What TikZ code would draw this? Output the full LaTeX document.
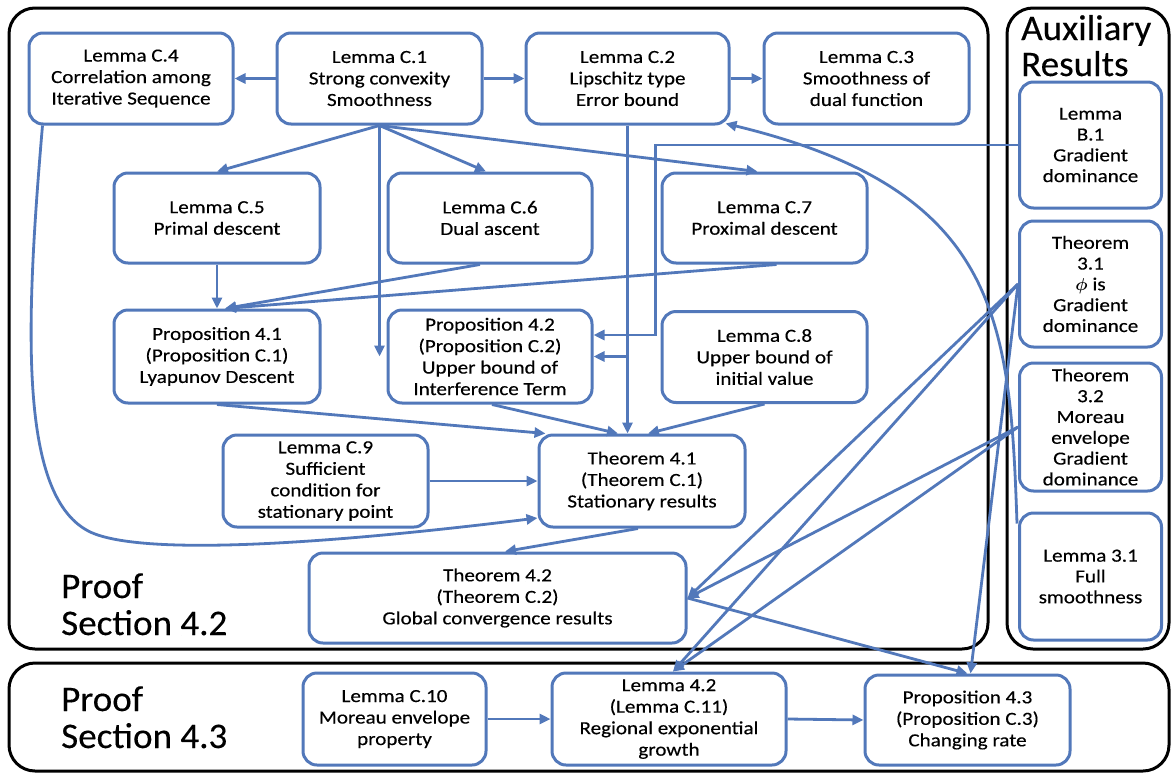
\documentclass[tikz,border=0pt]{standalone}
\usepackage{amsmath}
\usepackage{fontspec}
\setmainfont{Carlito}
\newfontfamily\nodefont{Carlito}[FakeStretch=1.14,FakeBold=0.35]
\newfontfamily\bigfont{Carlito}[FakeStretch=1.03,FakeBold=0.3]
\usetikzlibrary{arrows.meta,calc}
\definecolor{nodeblue}{RGB}{82,120,186}
\begin{document}
\begin{tikzpicture}[x=1pt,y=-1pt,
  box/.style={draw=nodeblue, line width=3pt, rounded corners=14pt, fill=white, align=center, inner sep=1pt, font=\nodefont\fontsize{18.5}{21.5}\selectfont},
  auxtxt/.style={font=\nodefont\fontsize{18.5}{20.8}\selectfont},
  sz/.style 2 args={minimum width=#1pt, minimum height=#2pt},
  frame/.style={draw=black, line width=3pt, rounded corners=26pt},
  conn/.style={draw=nodeblue, line width=2.8pt},
  arr/.style={conn, -{Triangle[length=11pt,width=10pt]}},
  bigtxt/.style={font=\bigfont\fontsize{36}{40}\selectfont, anchor=base west, inner sep=0pt}]

\useasboundingbox (0,0) rectangle (1172,774);
\fill[white] (0,0) rectangle (1172,774);

% frames
\node[frame, sz={979}{641}] (sec42) at (498.5,328.5) {};
\node[frame, sz={162}{641}] (auxframe) at (1088,328.5) {};
\node[frame, sz={1160}{108}] (sec43) at (589,717) {};

\node[bigtxt] (pf42a) at (61,598) {Proof};
\node[bigtxt] (pf42b) at (61,635) {Section 4.2};
\node[bigtxt] (pf43a) at (61,711) {Proof};
\node[bigtxt] (pf43b) at (61,748) {Section 4.3};
\node[bigtxt] (auxa) at (1021,40) {Auxiliary};
\node[bigtxt] (auxb) at (1021,76) {Results};

% nodes
\node[box, sz={204}{91}] (c4) at (131,78.5) {Lemma C.4\\Correlation among\\Iterative Sequence};
\node[box, sz={205}{91}] (c1) at (379.5,78.5) {Lemma C.1\\Strong convexity\\Smoothness};
\node[box, sz={203}{91}] (c2) at (627.5,78.5) {Lemma C.2\\Lipschitz type\\Error bound};
\node[box, sz={205}{91}] (c3) at (866.5,78.5) {Lemma C.3\\Smoothness of\\dual function};
\node[box, auxtxt, sz={142}{126}] (b1) at (1090.5,145) {Lemma\\B.1\\Gradient\\dominance};
\node[box, sz={206}{90}] (c5) at (217,218) {Lemma C.5\\Primal descent};
\node[box, sz={204}{90}] (c6) at (490,218) {Lemma C.6\\Dual ascent};
\node[box, sz={205}{90}] (c7) at (764.5,218) {Lemma C.7\\Proximal descent};
\node[box, auxtxt, sz={142}{126}] (t31) at (1090.5,284) {Theorem\\3.1\\$\boldsymbol{\phi}$ is\\Gradient\\dominance};
\node[box, sz={206}{93}] (p41) at (217,356.5) {Proposition 4.1\\(Proposition C.1)\\Lyapunov Descent};
\node[box, sz={204}{93}] (p42) at (490,356.5) {Proposition 4.2\\(Proposition C.2)\\Upper bound of\\Interference Term};
\node[box, sz={205}{91}] (c8) at (764.5,357) {Lemma C.8\\Upper bound of\\initial value};
\node[box, auxtxt, sz={142}{128}] (t32) at (1090.5,427) {Theorem\\3.2\\Moreau\\envelope\\Gradient\\dominance};
\node[box, sz={205}{92}] (c9) at (325.5,481) {Lemma C.9\\Sufficient\\condition for\\stationary point};
\node[box, sz={206}{92}] (t41) at (642,481) {Theorem 4.1\\(Theorem C.1)\\Stationary results};
\node[box, auxtxt, sz={142}{127}] (l31) at (1090.5,576.5) {Lemma 3.1\\Full\\smoothness};
\node[box, sz={377}{90}] (t42) at (497.5,598) {Theorem 4.2\\(Theorem C.2)\\Global convergence results};
\node[box, sz={183}{92}] (c10) at (394.5,719) {Lemma C.10\\Moreau envelope\\property};
\node[box, sz={234}{92}] (l42) at (669,719) {Lemma 4.2\\(Lemma C.11)\\Regional exponential\\growth};
\node[box, sz={205}{90}] (p43) at (967.5,720) {Proposition 4.3\\(Proposition C.3)\\Changing rate};

% connectors
\draw[arr] (c1.west) -- (c4.east);
\draw[arr] (c1.east) -- (c2.west);
\draw[arr] (c2.east) -- (c3.west);
\draw[arr] (c1.south) -- (c5.north);
\draw[arr] (c1.south) -- ($(c6.north)+(-4,0)$);
\draw[arr] (c1.south) -- ($(c7.north)+(-7,0)$);
\draw[arr] (c1.south) -- (c1.south |- p42.west);
\draw[arr] (c5.south) -- (p41.north);
\draw[arr] ($(c6.south)+(-10,0)$) -- ($(p41.north)+(8,0)$);
\draw[arr] ($(c7.south)+(12,0)$) -- ($(p41.north)+(8,0)$);
\draw[arr] (c2.south) -- (c2.south |- t41.north);
\draw[arr] (c2.south) |- (p42.east);
\draw[arr] (b1.west) -| ($(p42.east)+(62,-21.5)$) -- ($(p42.east)+(0,-21.5)$);
\draw[arr] (p41.south) -- ($(t41.north west)+(8,0)$);
\draw[arr] ($(p42.south)+(2,0)$) -- ($(t41.north)+(-24,0)$);
\draw[arr] (c8.south) -- ($(t41.north)+(6,0)$);
\draw[arr] (c9.east) -- (t41.west);
\draw[arr] ($(c4.south west)+(15,0)$) .. controls (25,330) and (18,505) .. (95,534)
   .. controls (165,560) and (400,535) .. ($(t41.west)+(0,37)$);
\draw[arr] ($(t41.south)+(-4,0)$) -- ($(t42.north)+(7.5,0)$);
\draw[arr] (t31.west) -- (t42.east);
\draw[arr] (t31.west) -- ($(l42.north)+(4,0)$);
\draw[arr] (t31.west) -- ($(p43.north)+(3,0)$);
\draw[arr] (t32.west) -- (t42.east);
\draw[arr] (t32.west) -- ($(l42.north)+(4,0)$);
\draw[arr] (t42.east) -- (p43.north);
\draw[arr] (c10.east) -- (l42.west);
\draw[arr] (l42.east) -- (p43.west);
\draw[arr] ($(l31.north west)+(-1,12)$) .. controls (1010,320) and (1000,190) .. ($(c2.south east)+(-5,-2)$);
\end{tikzpicture}
\end{document}
